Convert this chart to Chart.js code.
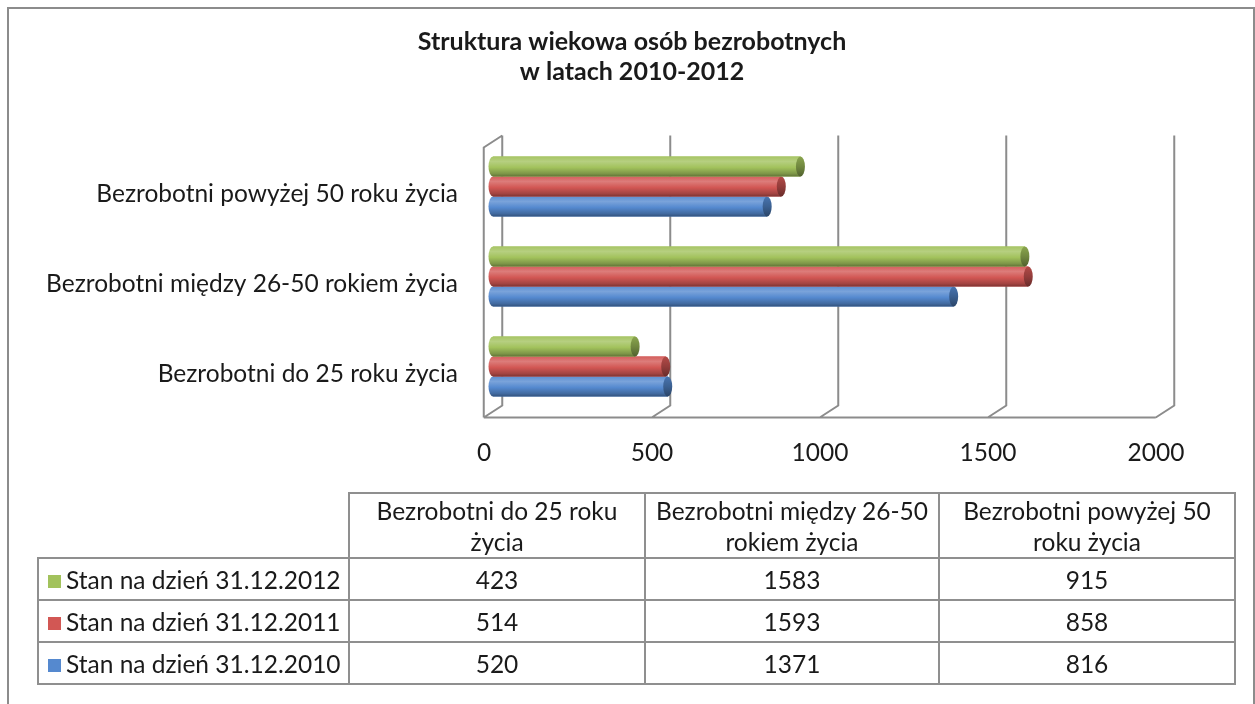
<!DOCTYPE html>
<html>
<head>
<meta charset="utf-8">
<script src="https://cdn.jsdelivr.net/npm/chart.js@4.4.1/dist/chart.umd.min.js"></script>
<style>
  html, body { margin: 0; padding: 0; background: #fff; }
  body { width: 1255px; height: 704px; position: relative; overflow: hidden; font-family: Lato, sans-serif; color: #1a1a1a; }
  #frame { position: absolute; left: 7px; top: 7px; width: 1248px; height: 740px; border: 2px solid #8c8c8c; box-sizing: border-box; }
  #chart { position: absolute; left: 0; top: 0; }
  #dataTable { position: absolute; left: 37px; top: 492px; border-collapse: collapse; font-size: 24.5px; }
  #dataTable td { border: 2px solid #8f8f8f; text-align: center; padding: 0; }
  #dataTable td.corner { border: none; }
  #dataTable tr.head td { height: 63px; line-height: 31px; }
  #dataTable tr.row td { height: 40px; }
  #dataTable td.name { text-align: left; padding-left: 9px; white-space: nowrap; }
  .key { display: inline-block; width: 13px; height: 13px; margin-right: 5px; vertical-align: 1px; }
</style>
</head>
<body>
<div id="frame"></div>
<canvas id="chart" width="1255" height="704"></canvas>
<table id="dataTable"></table>
<script>
// Data
const categories = ['Bezrobotni do 25 roku życia', 'Bezrobotni między 26-50 rokiem życia', 'Bezrobotni powyżej 50 roku życia'];
const headerLines = [['Bezrobotni do 25 roku', 'życia'], ['Bezrobotni między 26-50', 'rokiem życia'], ['Bezrobotni powyżej 50', 'roku życia']];
const seriesNames = ['Stan na dzień 31.12.2012', 'Stan na dzień 31.12.2011', 'Stan na dzień 31.12.2010'];
const values2012 = [423, 1583, 915];
const values2011 = [514, 1593, 858];
const values2010 = [520, 1371, 816];
const seriesColors = ['#a2c25c', '#d25754', '#5589cf'];
const xTicks = [0, 500, 1000, 1500, 2000];
const chartTitle = ['Struktura wiekowa osób bezrobotnych', 'w latach 2010-2012'];

const seriesValues = [values2012, values2011, values2010];

// 3D box depth (half offsets)
const DX = 9.25, DY = 6;
const gridColor = '#8c8c8c';

// Back walls + floor drawn behind bars
const walls = {
    id: 'walls',
    beforeDatasetsDraw(chart) {
        const ctx = chart.ctx;
        const xs = chart.scales.x;
        const { top, bottom } = chart.chartArea;
        ctx.save();
        ctx.strokeStyle = gridColor;
        ctx.lineWidth = 2;
        ctx.beginPath();
        xTicks.forEach(v => {
            const x = xs.getPixelForValue(v);
            ctx.moveTo(x + DX, top - DY);
            ctx.lineTo(x + DX, bottom - DY);
            ctx.lineTo(x - DX, bottom + DY);
        });
        const x0 = xs.getPixelForValue(xTicks[0]);
        const x1 = xs.getPixelForValue(xTicks[xTicks.length - 1]);
        // floor front edge
        ctx.moveTo(x0 - DX, bottom + DY);
        ctx.lineTo(x1 - DX, bottom + DY);
        // left wall
        ctx.moveTo(x0 + DX, top - DY);
        ctx.lineTo(x0 - DX, top + DY);
        ctx.lineTo(x0 - DX, bottom + DY);
        ctx.stroke();
        ctx.restore();
    }
};

function shade(hex, f) {
    const n = parseInt(hex.slice(1), 16);
    const r = (n >> 16) & 255, g = (n >> 8) & 255, b = n & 255;
    const m = c => Math.round(f < 1 ? c * f : c + (255 - c) * (f - 1));
    return `rgb(${m(r)},${m(g)},${m(b)})`;
}

// Cylinder look on top of the library's bars
const cylinders = {
    id: 'cylinders',
    afterDatasetDraw(chart, args) {
        const ctx = chart.ctx;
        const col = seriesColors[args.index];
        args.meta.data.forEach(bar => {
            const { x, y, base, height } = bar.getProps(['x', 'y', 'base', 'height'], true);
            const t = y - height / 2, h = height, rx = 4.5;
            const g = ctx.createLinearGradient(0, t, 0, t + h);
            g.addColorStop(0, shade(col, 1.05));
            g.addColorStop(0.25, shade(col, 1.22));
            g.addColorStop(0.55, shade(col, 1.0));
            g.addColorStop(0.85, shade(col, 0.78));
            g.addColorStop(1, shade(col, 0.6));
            ctx.save();
            ctx.fillStyle = g;
            ctx.beginPath();
            ctx.ellipse(base, y, rx, h / 2, 0, Math.PI / 2, Math.PI * 1.5);
            ctx.lineTo(x, t);
            ctx.lineTo(x, t + h);
            ctx.closePath();
            ctx.fill();
            // end cap
            const cg = ctx.createLinearGradient(0, t, 0, t + h);
            cg.addColorStop(0, shade(col, 0.85));
            cg.addColorStop(0.5, shade(col, 0.7));
            cg.addColorStop(1, shade(col, 0.5));
            ctx.fillStyle = cg;
            ctx.beginPath();
            ctx.ellipse(x, y, rx, h / 2, 0, 0, Math.PI * 2);
            ctx.fill();
            ctx.restore();
        });
    }
};

const ctx = document.getElementById('chart').getContext('2d');
new Chart(ctx, {
    type: 'bar',
    data: {
        labels: categories,
        datasets: seriesNames.map((name, i) => ({
            label: name,
            data: seriesValues[i],
            backgroundColor: seriesColors[i],
            borderWidth: 0,
            barPercentage: 1,
            categoryPercentage: 0.667
        }))
    },
    options: {
        indexAxis: 'y',
        responsive: false,
        animation: false,
        layout: { padding: { left: 9, right: 0, top: 0, bottom: 0 } },
        plugins: {
            legend: { display: false },
            tooltip: { enabled: false },
            title: {
                display: true,
                text: chartTitle,
                color: '#1a1a1a',
                font: { family: 'Lato', size: 25, weight: 'bold', lineHeight: 1.2 },
                padding: { top: 27, bottom: 54.5 }
            }
        },
        scales: {
            x: {
                min: 0,
                max: 2000,
                afterBuildTicks: scale => { scale.ticks = xTicks.map(v => ({ value: v })); },
                grid: { display: false, drawTicks: false },
                border: { display: false },
                ticks: { color: '#1a1a1a', font: { family: 'Lato', size: 24.5 }, padding: 27, labelOffset: -9, callback: v => String(v) },
                afterFit: scale => { scale.height = 292.5; }
            },
            y: {
                reverse: true,
                grid: { display: false, drawTicks: false },
                border: { display: false },
                ticks: { color: '#1a1a1a', font: { family: 'Lato', size: 24.5 }, padding: 35, labelOffset: 8 },
                afterFit: scale => { scale.width = 484; }
            },
            // empty spacer on the right side of the plot
            spacer: {
                axis: 'y',
                position: 'right',
                grid: { display: false, drawTicks: false },
                border: { display: false },
                ticks: { display: false },
                afterFit: scale => { scale.width = 90; }
            }
        }
    },
    plugins: [walls, cylinders]
});

// Data table under the chart
const table = document.getElementById('dataTable');
const colW = [310, 294, 292, 294];
let html = '<tr class="head"><td class="corner" style="width:' + colW[0] + 'px"></td>';
headerLines.forEach((lines, i) => {
    html += '<td style="width:' + colW[i + 1] + 'px">' + lines.join('<br>') + '</td>';
});
html += '</tr>';
seriesNames.forEach((name, s) => {
    html += '<tr class="row"><td class="name"><span class="key" style="background:' + seriesColors[s] + '"></span>' + name + '</td>';
    seriesValues[s].forEach(v => { html += '<td>' + v + '</td>'; });
    html += '</tr>';
});
table.innerHTML = html;
</script>
</body>
</html>
